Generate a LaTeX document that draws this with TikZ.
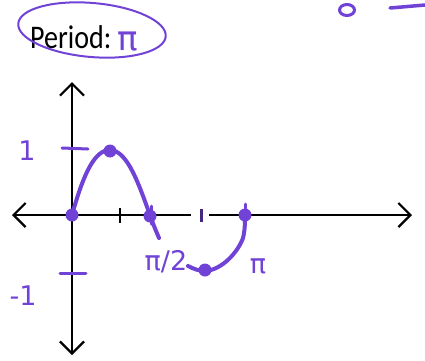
\documentclass[tikz,border=0pt]{standalone}
\usepackage{fontspec}
\setmainfont{Carlito}
\newfontfamily\handfont{DejaVu Sans}
\usetikzlibrary{arrows.meta,shapes.geometric}
\definecolor{pen}{RGB}{112,66,214}
\begin{document}
\begin{tikzpicture}[x=1pt,y=-1pt,
  axis/.style={line width=2.2pt,black},
  tip/.style={-{Straight Barb[length=12pt,width=24pt,line width=2.2pt]}},
  curve/.style={pen,line width=4pt,line cap=round},
  tickp/.style={pen,line width=3pt,line cap=round},
  dotp/.style={circle,fill=pen,inner sep=0pt,minimum size=13pt},
  hand/.style={pen,font=\handfont\fontsize{27}{27}\selectfont,inner sep=0pt}]
\useasboundingbox (0,0) rectangle (425,360);
% header
\node[anchor=base west,inner sep=0pt,xscale=0.85,font=\fontsize{33}{33}\selectfont] (per) at (30,48) {Period:};
\node[hand,anchor=base west,font=\handfont\fontsize{34}{34}\selectfont] (pi0) at (117,50) {π};
\draw[pen,line width=2pt,rotate around={-5:(92,30)}] (92,30) ellipse[x radius=74,y radius=27];
\node[pen,draw,line width=3pt,ellipse,inner sep=0pt,minimum width=15pt,minimum height=11pt] (o) at (347,10) {};
\coordinate (d1) at (390,8);
\coordinate (d2) at (425,5);
\draw[pen,line width=3.5pt,line cap=round] (d1) -- (d2);
% axes
\coordinate (yt) at (72,82);
\coordinate (yb) at (72,355);
\coordinate (xl) at (12,215);
\coordinate (xr) at (412,215);
\coordinate (g1) at (191,215);
\coordinate (g2) at (209,215);
\draw[axis,tip] (72,215) -- (yt);
\draw[axis,tip] (72,215) -- (yb);
\draw[axis,tip] (g1) -- (xl);
\draw[axis,tip] (g2) -- (xr);
\draw[line width=3pt,pen!60!black] (201,209) -- (201,222);
\draw[line width=2pt] (120,208) -- (120,223);
% ticks
\draw[tickp] (62,148) -- (88,149);
\draw[tickp] (60,273) -- (86,273);
\draw[tickp] (151,206) -- (151,224);
\draw[tickp] (245,204) -- (245,222);
% labels
\node[hand] (l1) at (27,151) {1};
\node[hand] (lm1) at (23,296) {-1};
\node[hand] (lpi2) at (166,262) {π/2};
\node[hand] (lpi) at (258,266) {π};
% curve
\draw[curve] (72,215) .. controls (84,172) and (95,150) .. (110,150)
  .. controls (128,150) and (140,188) .. (150,215)
  .. controls (153,224) and (156,231) .. (159,238);
\draw[curve] (188,266) .. controls (194,269) and (199,271) .. (205,271)
  .. controls (222,270) and (238,252) .. (243,238)
  .. controls (245,230) and (245,222) .. (245,215);
% dots
\node[dotp] (p0) at (72,215) {};
\node[dotp] (p1) at (110,151) {};
\node[dotp] (p2) at (150,216) {};
\node[dotp] (p3) at (205,270) {};
\node[dotp] (p4) at (245,215) {};
\end{tikzpicture}
\end{document}
